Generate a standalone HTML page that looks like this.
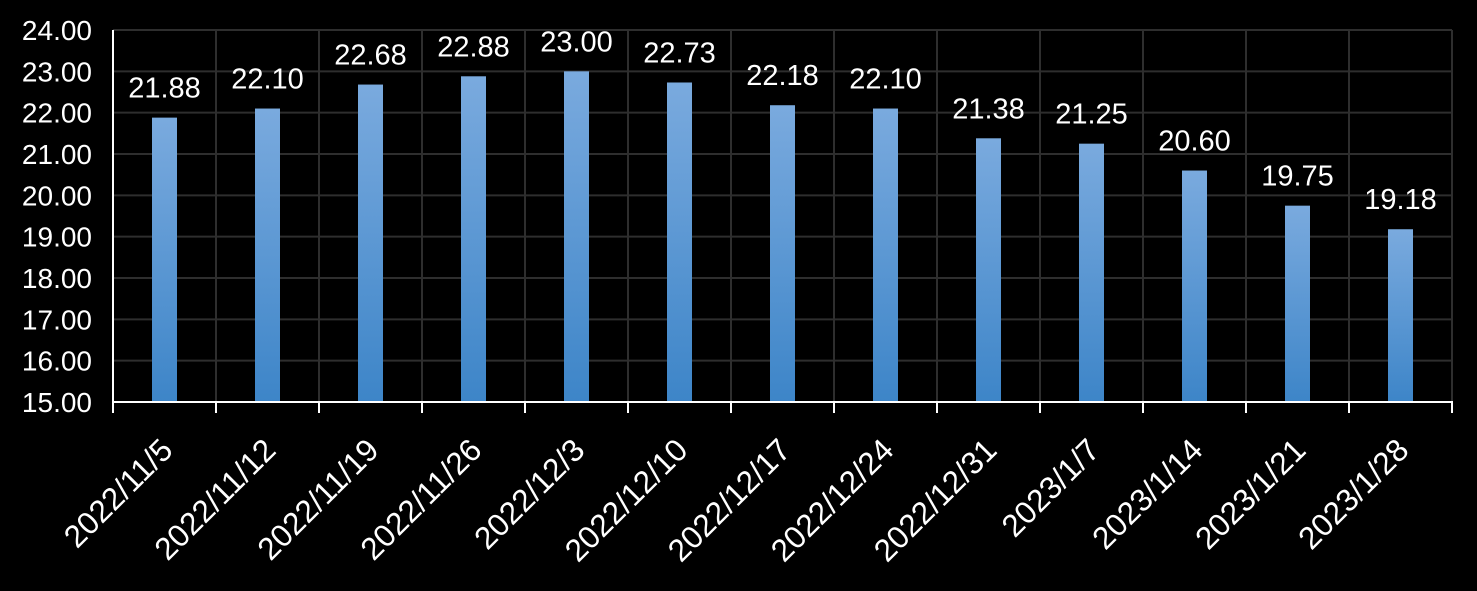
<!DOCTYPE html>
<html><head><meta charset="utf-8"><style>
html,body{margin:0;padding:0;background:#000;width:1477px;height:591px;overflow:hidden}
text{font-family:"Liberation Sans","DejaVu Sans",sans-serif;fill:#fff}
</style></head><body>
<svg width="1477" height="591" xmlns="http://www.w3.org/2000/svg">
<defs><linearGradient id="g" x1="0" y1="0" x2="0" y2="1"><stop offset="0" stop-color="#7aaade"/><stop offset="1" stop-color="#3d85c8"/></linearGradient></defs>
<rect width="1477" height="591" fill="#000"/>
<g id="c"></g>
</svg>
<script>
const g=document.getElementById('c');const ns="http://www.w3.org/2000/svg";
function el(t,a,txt){const e=document.createElementNS(ns,t);for(const k in a)e.setAttribute(k,a[k]);if(txt!==undefined)e.textContent=txt;g.appendChild(e);return e;}
const L=113,R=1452,T=30,B=402,cw=(R-L)/13;const y=v=>B-(v-15)*(B-T)/9;
for(let v=16;v<=24;v++)el('line',{x1:L,x2:R,y1:y(v),y2:y(v),stroke:'#2e2e2e','stroke-width':2});
for(let i=1;i<=13;i++)el('line',{x1:L+i*cw,x2:L+i*cw,y1:T,y2:B,stroke:'#2e2e2e','stroke-width':2});
const d=[["2022/11/5",21.88],["2022/11/12",22.10],["2022/11/19",22.68],["2022/11/26",22.88],["2022/12/3",23.00],["2022/12/10",22.73],["2022/12/17",22.18],["2022/12/24",22.10],["2022/12/31",21.38],["2023/1/7",21.25],["2023/1/14",20.60],["2023/1/21",19.75],["2023/1/28",19.18]];
d.forEach((p,i)=>{const cx=L+(i+.5)*cw;el('rect',{x:cx-12.5,y:y(p[1]),width:25,height:B-y(p[1]),fill:'url(#g)'});
el('text',{x:cx,y:y(p[1])-20,'text-anchor':'middle','font-size':29},p[1].toFixed(2));
el('text',{transform:`translate(${cx+10},${452}) rotate(-45)`,'text-anchor':'end','font-size':31.5},p[0]);});
for(let v=15;v<=24;v++)el('text',{x:92,y:y(v)+10,'text-anchor':'end','font-size':28},v.toFixed(2));
el('line',{x1:L,x2:L,y1:T,y2:B+10,stroke:'#fff','stroke-width':2});
el('line',{x1:L,x2:R+1,y1:B,y2:B,stroke:'#fff','stroke-width':2});
for(let i=0;i<=13;i++)el('line',{x1:L+i*cw,x2:L+i*cw,y1:B,y2:B+11,stroke:'#fff','stroke-width':2});
</script>
</body></html>
